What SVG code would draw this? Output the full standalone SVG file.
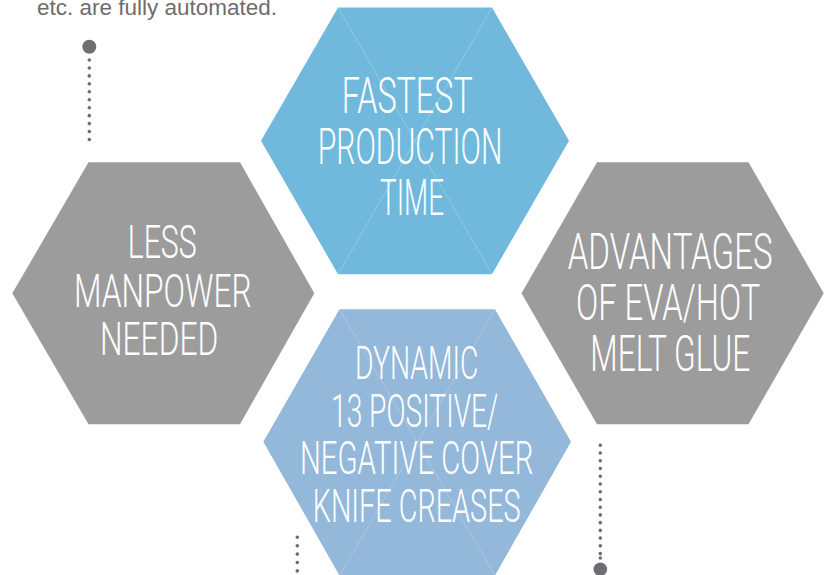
<svg xmlns="http://www.w3.org/2000/svg" width="832" height="575" viewBox="0 0 832 575">
<style>
.hex-blue1{fill:#70b9dc}
.hex-blue2{fill:#94b8d9}
.hex-gray{fill:#9c9c9c}
.diag{stroke:#a9d3e9;stroke-width:0.6;fill:none}
.diag2{stroke:#b9d1e7;stroke-width:0.6;fill:none}
.lbl{font-family:Roboto,"Liberation Sans",sans-serif;font-weight:300;fill:#ffffff}
.big{font-size:50.5px}
.mid{font-size:46px}
.note{font-family:"Liberation Sans",Arial,sans-serif;font-size:22px;fill:#6d6d6d}
.dots{stroke:#6e6d72;stroke-linecap:round;fill:none}
.dotbig{fill:#6e6d72}
</style>
<rect width="832" height="575" fill="#ffffff"/>
<text class="note" x="37" y="14.5" textLength="240" lengthAdjust="spacingAndGlyphs">etc. are fully automated.</text>

<g id="node-fastest">
<polygon class="hex-blue1" points="261,140.8 338,7.5 492,7.5 569,140.8 492,274.2 338,274.2"/>
<line class="diag" x1="338" y1="7.5" x2="492" y2="274.2"/>
<line class="diag" x1="492" y1="7.5" x2="338" y2="274.2"/>
<text class="lbl big" x="341.7" y="113.3" textLength="131" lengthAdjust="spacingAndGlyphs">FASTEST</text>
<text class="lbl big" x="317.7" y="164.3" textLength="184.6" lengthAdjust="spacingAndGlyphs">PRODUCTION</text>
<text class="lbl big" x="380" y="215" textLength="64" lengthAdjust="spacingAndGlyphs">TIME</text>
</g>

<g id="node-manpower">
<polygon class="hex-gray" points="12.3,293.3 88.5,162.3 240,162.3 314.3,293.3 240,424.3 88.5,424.3"/>
<text class="lbl mid" x="127.7" y="257.7" textLength="69" lengthAdjust="spacingAndGlyphs">LESS</text>
<text class="lbl mid" x="74" y="307.3" textLength="177.7" lengthAdjust="spacingAndGlyphs">MANPOWER</text>
<text class="lbl mid" x="100" y="355" textLength="118.3" lengthAdjust="spacingAndGlyphs">NEEDED</text>
</g>

<g id="node-advantages">
<polygon class="hex-gray" points="521.5,293.3 597,162.3 748.5,162.3 823.7,293.3 748.5,424.3 597,424.3"/>
<text class="lbl big" x="567.7" y="269.3" textLength="205" lengthAdjust="spacingAndGlyphs">ADVANTAGES</text>
<text class="lbl big" x="576" y="320" textLength="184.3" lengthAdjust="spacingAndGlyphs">OF EVA/HOT</text>
<text class="lbl big" x="590.3" y="370.7" textLength="160" lengthAdjust="spacingAndGlyphs">MELT GLUE</text>
</g>

<g id="node-dynamic">
<polygon class="hex-blue2" points="263.3,441.7 339.5,309.3 495,309.3 571,441.7 495,575.5 339.5,575.5"/>
<line class="diag2" x1="339.5" y1="309.3" x2="495" y2="575.5"/>
<line class="diag2" x1="495" y1="309.3" x2="339.5" y2="575.5"/>
<text class="lbl mid" x="355" y="379" textLength="123.3" lengthAdjust="spacingAndGlyphs">DYNAMIC</text>
<text class="lbl mid" x="331" y="426.7" textLength="167.3" lengthAdjust="spacingAndGlyphs">13 POSITIVE/</text>
<text class="lbl mid" x="300" y="474.3" textLength="233.3" lengthAdjust="spacingAndGlyphs">NEGATIVE COVER</text>
<text class="lbl mid" x="312.7" y="521.7" textLength="208" lengthAdjust="spacingAndGlyphs">KNIFE CREASES</text>
</g>

<g id="connectors">
<circle class="dotbig" cx="89.3" cy="46.7" r="7"/>
<line class="dots" x1="89.3" y1="60" x2="89.3" y2="139.5" stroke-width="3.6" stroke-dasharray="0 7.95"/>
<line class="dots" x1="600.3" y1="445.3" x2="600.3" y2="553.6" stroke-width="3.6" stroke-dasharray="0 7.735"/>
<circle class="dotbig" cx="600.3" cy="558" r="1.8"/>
<circle class="dotbig" cx="600.3" cy="569.3" r="6.8"/>
<line class="dots" x1="297.3" y1="537.3" x2="297.3" y2="575" stroke-width="3.6" stroke-dasharray="0 8.4"/>
</g>
</svg>
